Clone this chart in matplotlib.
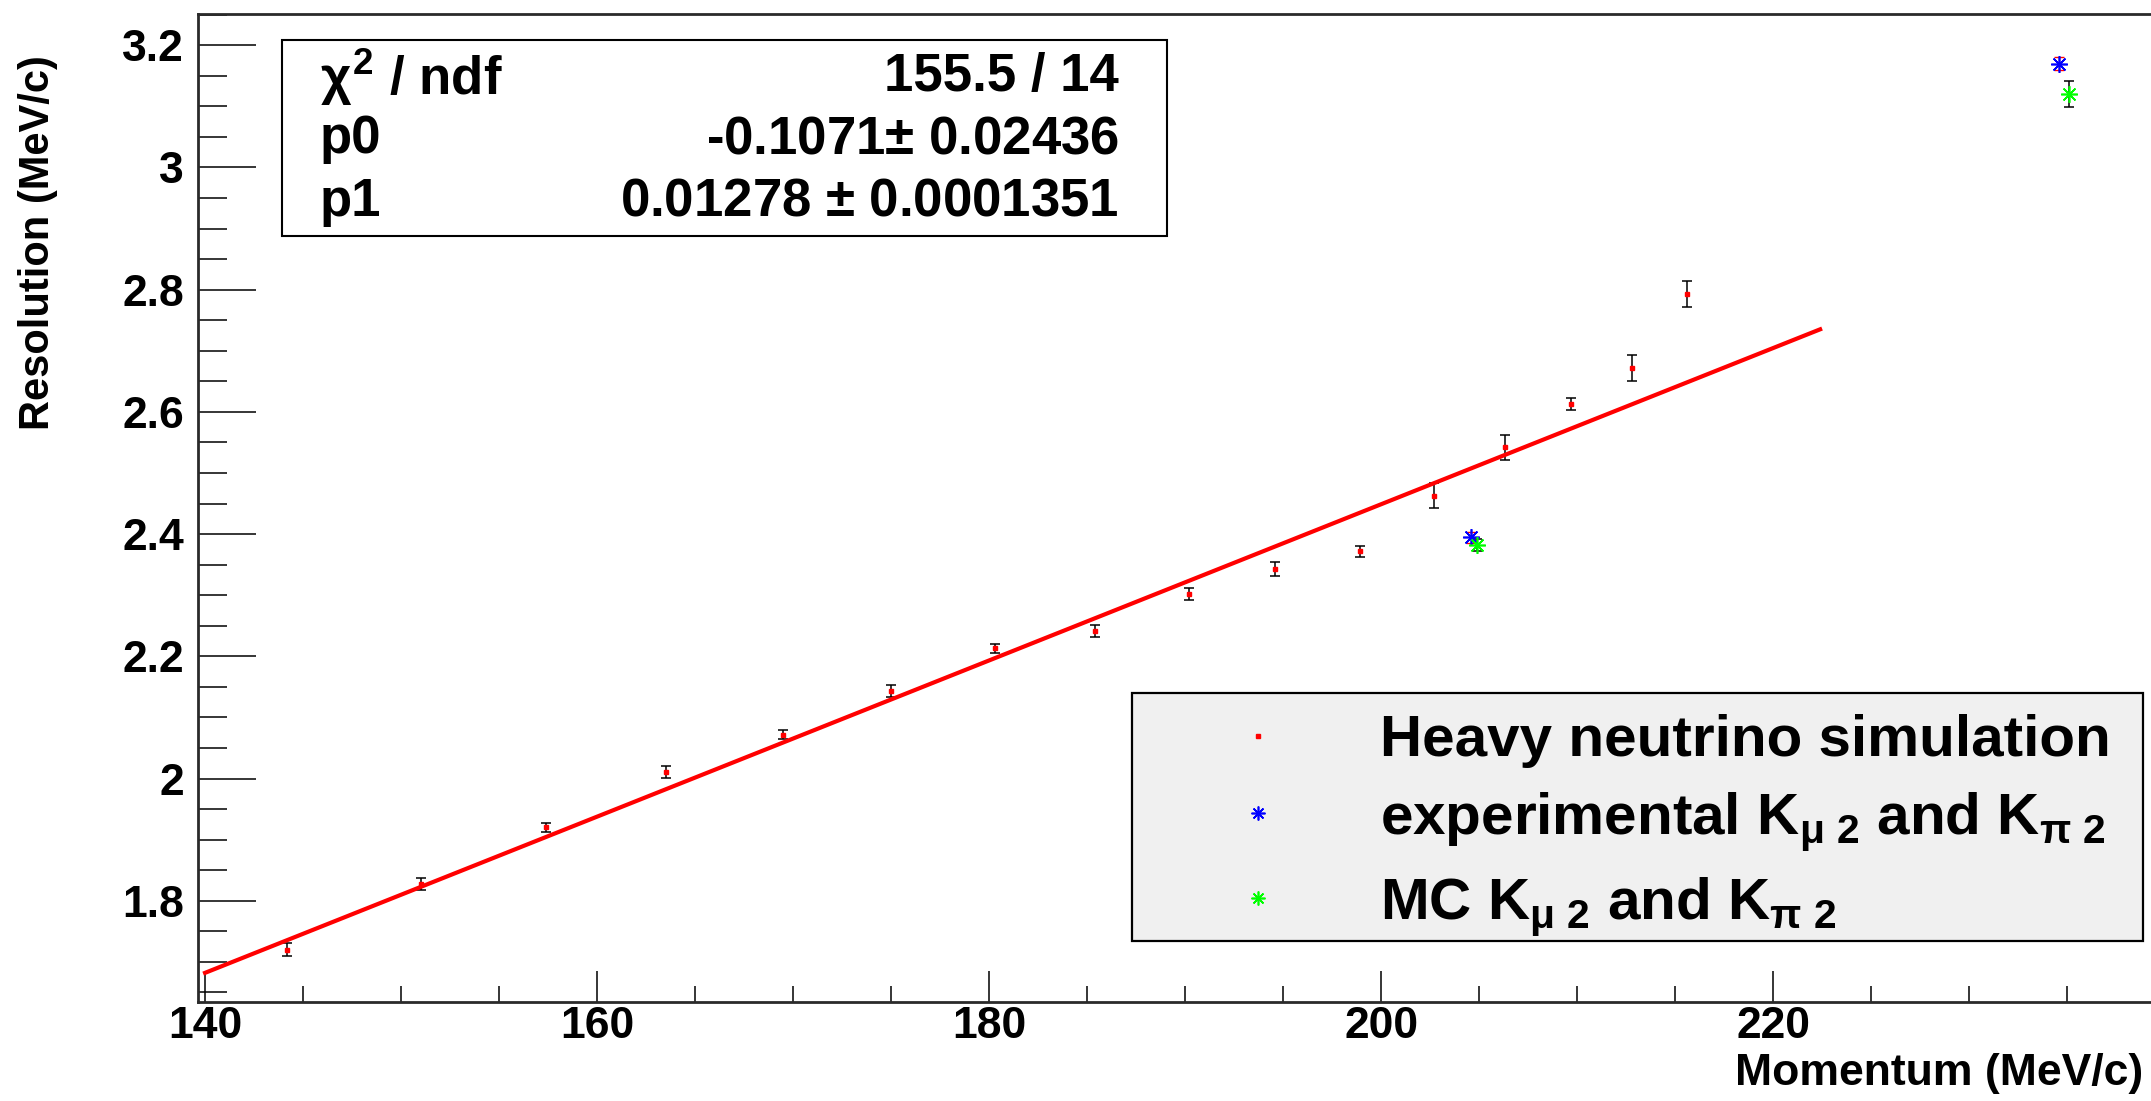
import numpy as np
import matplotlib
matplotlib.use("Agg")
import matplotlib.pyplot as plt
from matplotlib.patches import Rectangle
from matplotlib.lines import Line2D
from matplotlib.ticker import MultipleLocator

plt.rcParams['font.family'] = ['Liberation Sans', 'DejaVu Sans']
plt.rcParams['font.weight'] = 'bold'
plt.rcParams['mathtext.fontset'] = 'custom'
plt.rcParams['mathtext.rm'] = 'Liberation Sans:bold'
plt.rcParams['mathtext.it'] = 'Liberation Sans:bold'
plt.rcParams['mathtext.bf'] = 'Liberation Sans:bold'

# heavy neutrino simulation (momentum in MeV/c, resolution in MeV/c)
sim_p = [144.2, 151.0, 157.4, 163.5, 169.5, 175.0, 180.3, 185.4,
         190.2, 194.6, 198.9, 202.7, 206.3, 209.7, 212.8, 215.6]
sim_res = [1.720, 1.828, 1.920, 2.011, 2.072, 2.143, 2.213, 2.241,
           2.302, 2.343, 2.372, 2.463, 2.542, 2.613, 2.672, 2.793]
sim_err = [0.011, 0.010, 0.008, 0.010, 0.007, 0.010, 0.008, 0.010,
           0.010, 0.011, 0.009, 0.020, 0.021, 0.010, 0.021, 0.021]

# experimental Kmu2 / Kpi2
exp_p = [204.6, 234.6]
exp_res = [2.395, 3.170]
exp_err = [0.009, 0.010]

# MC Kmu2 / Kpi2
mc_p = [204.9, 235.1]
mc_res = [2.382, 3.120]
mc_err = [0.010, 0.021]

# linear fit result
p0, p0_err = -0.1071, 0.02436
p1, p1_err = 0.01278, 0.0001351
chi2, ndf = 155.5, 14
fit_range = (140.0, 222.4)

W, H = 2151, 1101
fig = plt.figure(figsize=(W / 100, H / 100), dpi=100)
ax = fig.add_axes([198 / W, 1 - 1002 / H, (2160 - 198) / W, (1002 - 13.5) / H])

# fit line
xf = np.linspace(fit_range[0], fit_range[1], 200)
ax.plot(xf, p0 + p1 * xf, color='red', lw=3, zorder=3)

# data with error bars
ax.errorbar(sim_p, sim_res, yerr=sim_err, fmt='none', ecolor='black',
            elinewidth=1.1, capsize=3.5, capthick=1.1, zorder=2)
ax.plot(sim_p, sim_res, 's', color='red', ms=3.5, mec='red', zorder=4)

ax.errorbar(exp_p, exp_res, yerr=exp_err, fmt='none', ecolor='red',
            elinewidth=1.0, capsize=3.5, capthick=1.0, zorder=2)
ax.plot(exp_p, exp_res, ls='none', marker=(8, 2, 0), color='blue',
        ms=12, mew=1.2, zorder=5)

ax.errorbar(mc_p, mc_res, yerr=mc_err, fmt='none', ecolor='black',
            elinewidth=1.1, capsize=3.5, capthick=1.1, zorder=2)
ax.plot(mc_p, mc_res, ls='none', marker=(8, 2, 0), color='#00ff00',
        ms=12, mew=1.2, zorder=5)

ax.set_xlim(139.64, 239.74)
ax.set_ylim(1.6344, 3.252)

ax.xaxis.set_major_locator(MultipleLocator(20))
ax.xaxis.set_minor_locator(MultipleLocator(5))
ax.yaxis.set_major_locator(MultipleLocator(0.2))
ax.yaxis.set_minor_locator(MultipleLocator(0.05))
ax.yaxis.set_major_formatter(plt.FuncFormatter(lambda v, _: f"{v:g}"))

ax.tick_params(axis='x', which='major', direction='in', length=22.5, width=1.1, pad=3, labelsize=32)
ax.tick_params(axis='x', which='minor', direction='in', length=11.5, width=1.1)
ax.tick_params(axis='y', which='major', direction='in', length=42, width=1.1, pad=10, labelsize=32)
ax.tick_params(axis='y', which='minor', direction='in', length=21, width=1.1)
ax.tick_params(top=False, right=False, which='both')

for s in ['left', 'bottom', 'top']:
    ax.spines[s].set_linewidth(2.0)
    ax.spines[s].set_color('#2a2a2a')
ax.spines['right'].set_visible(False)

ax.set_xlabel('Momentum (MeV/c)', fontsize=32, fontweight='bold', ha='right', va='center')
ax.xaxis.set_label_coords(0.9913, -0.0728)
ax.set_ylabel('Resolution (MeV/c)', fontsize=30, fontweight='bold', ha='right', va='center')
ax.yaxis.set_label_coords(-0.0815, 0.958)

# stats box
fig.patches.append(Rectangle((281.6 / W, 1 - 236 / H), (1167 - 281.6) / W, (236 - 40) / H,
                             transform=fig.transFigure, facecolor='white',
                             edgecolor='black', lw=1.5, zorder=10))
rows = [(r'$\chi^{2}$ / ndf', f'{chi2:g} / {ndf}', 77.5),
        ('p0', f'{p0:g}' + r'$\pm$' + f' {p0_err:g}', 139),
        ('p1', f'{p1:g} ' + r'$\pm$' + f' {p1_err:.7f}'.rstrip('0'), 201.7)]
for lab, val, yc in rows:
    fig.text(320 / W, 1 - yc / H, lab, fontsize=38, ha='left', va='center', zorder=11)
    fig.text(1119 / W, 1 - yc / H, val, fontsize=38, ha='right', va='center', zorder=11)

# legend: box drawn separately so its size matches the original pave
ax.add_patch(Rectangle((1132 / W, 1 - 941 / H), (2143 - 1132) / W, (941 - 693) / H,
                       transform=fig.transFigure, facecolor='#f0f0f0',
                       edgecolor='black', lw=1.6, zorder=6, clip_on=False))
handles = [Line2D([], [], ls='none', marker='s', color='red', ms=3.5),
           Line2D([], [], ls='none', marker=(8, 2, 0), color='blue', ms=10, mew=1.2),
           Line2D([], [], ls='none', marker=(8, 2, 0), color='#00ff00', ms=10, mew=1.2)]
labels = ['Heavy neutrino simulation',
          r'experimental K$_{\mu\ 2}$ and K$_{\pi\ 2}$',
          r'MC K$_{\mu\ 2}$ and K$_{\pi\ 2}$']
leg = ax.legend(handles, labels, loc='upper left', bbox_to_anchor=(1132 / W, 1 - 693 / H),
                bbox_transform=fig.transFigure, borderaxespad=0, borderpad=0.36,
                handlelength=3.6, handletextpad=0.3, labelspacing=0.38,
                fontsize=42, frameon=False)
leg.set_zorder(7)

fig.savefig('out.png', dpi=100)
